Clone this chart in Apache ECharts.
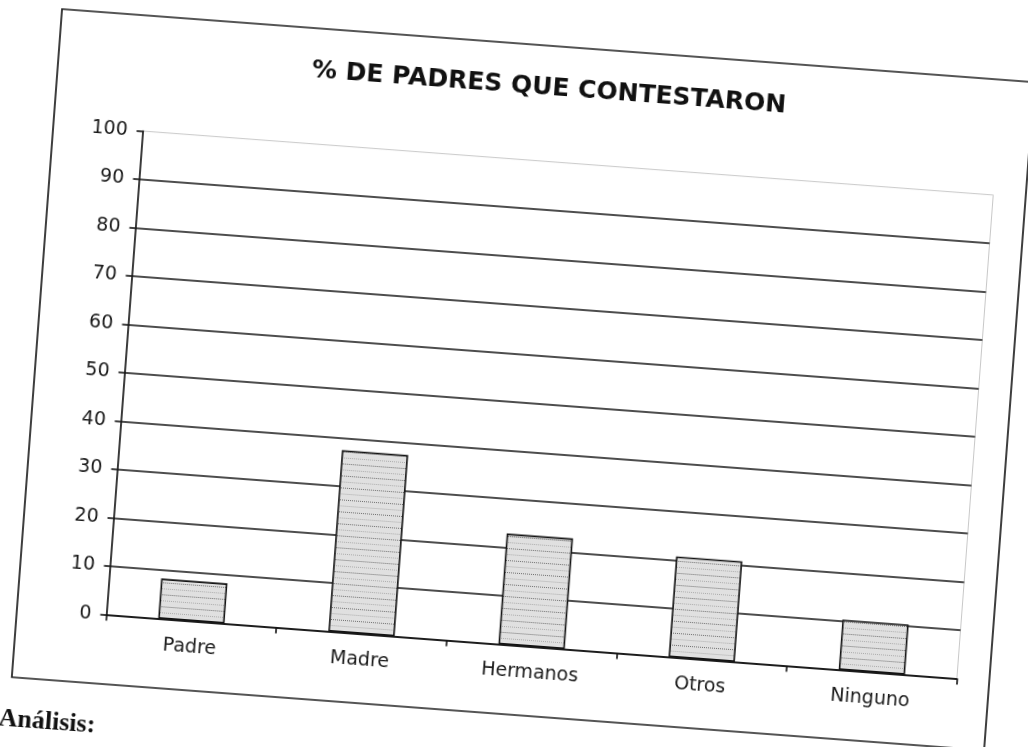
<!DOCTYPE html>
<html>
<head>
<meta charset="utf-8">
<script src="https://cdn.jsdelivr.net/npm/echarts@6/dist/echarts.min.js"></script>
<style>
  html, body { margin: 0; padding: 0; background: #fff; overflow: hidden; width: 1028px; height: 747px; }
  /* the printed sheet sits slightly turned on the page */
  #page {
    position: absolute; left: -40px; top: -40px; width: 1110px; height: 840px;
    transform-origin: 554px 413.5px; transform: rotate(4.3deg);
  }
</style>
</head>
<body>
<div id="page"></div>
<script>
// Who answered the questionnaire (% of families)
const categories = ['Padre', 'Madre', 'Hermanos', 'Otros', 'Ninguno'];
const percentages = [8.3, 37.5, 22.9, 20.8, 10.4];
const chartTitle = '% DE PADRES QUE CONTESTARON';
const noteText = 'Análisis:';

// light grey fill with dotted rows, like a printed pattern fill
function dottedFill() {
  const c = document.createElement('canvas');
  c.width = 6; c.height = 12;
  const g = c.getContext('2d');
  g.fillStyle = '#e0e0e0'; g.fillRect(0, 0, 6, 12);
  g.fillStyle = '#6e6e6e'; for (let x = 0; x < 6; x += 2) g.fillRect(x, 0, 1, 1);
  g.fillStyle = '#ababab'; for (let x = 1; x < 6; x += 2) g.fillRect(x, 6, 1, 1);
  return c;
}

const ink = '#121212';
const labelFont = 'DejaVu Sans';

const chart = echarts.init(document.getElementById('page'), null, { renderer: 'canvas' });
chart.setOption({
  animation: false,
  backgroundColor: 'transparent',
  grid: {
    left: 165.5, top: 199.6, width: 853, height: 485,
    show: true, borderColor: '#c8c8c8', borderWidth: 1, backgroundColor: 'transparent'
  },
  xAxis: {
    type: 'category',
    data: categories,
    axisLine: { lineStyle: { color: ink, width: 1.6 } },
    axisTick: { show: true, length: 6, lineStyle: { color: ink, width: 1.6 } },
    axisLabel: { color: '#1a1a1a', fontFamily: labelFont, fontSize: 19, margin: 17 },
    splitLine: { show: false }
  },
  yAxis: {
    type: 'value',
    min: 0, max: 100, interval: 10,
    axisLine: { show: true, lineStyle: { color: ink, width: 1.6 } },
    axisTick: { show: true, length: 6, lineStyle: { color: ink, width: 1.6 } },
    axisLabel: { color: '#1a1a1a', fontFamily: labelFont, fontSize: 19, margin: 15 },
    splitLine: { show: true, showMaxLine: false, lineStyle: { color: ink, width: 1.5 } }
  },
  series: [{
    type: 'bar',
    data: percentages,
    barCategoryGap: '61%',
    itemStyle: {
      color: { image: dottedFill(), repeat: 'repeat' },
      borderColor: ink, borderWidth: 1.6
    }
  }],
  graphic: [
    {
      type: 'rect', z: -1, silent: true,
      shape: { x: 76, y: 84, width: 975, height: 670 },
      style: { fill: 'none', stroke: '#1e1e1e', lineWidth: 1.7 }
    },
    {
      type: 'text', x: 567.5, y: 126,
      style: {
        text: chartTitle, fill: '#111',
        font: 'bold 25px "DejaVu Sans"', align: 'center', verticalAlign: 'middle'
      }
    },
    {
      type: 'text', x: 66, y: 783,
      style: {
        text: noteText, fill: '#111',
        font: 'bold 26px "Liberation Serif"', align: 'left', verticalAlign: 'top'
      }
    }
  ]
});
</script>
</body>
</html>
